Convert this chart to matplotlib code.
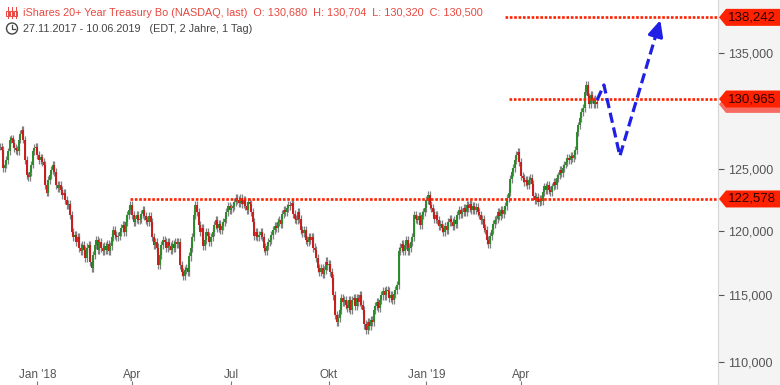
import numpy as np
import matplotlib
matplotlib.use('Agg')
import matplotlib.pyplot as plt
from matplotlib.patches import Polygon, Circle, Rectangle
from matplotlib.lines import Line2D
from matplotlib.transforms import blended_transform_factory
from matplotlib.ticker import FixedLocator, NullLocator, FuncFormatter

plt.rcParams['font.family'] = ['Liberation Sans', 'DejaVu Sans']

# daily closes, 27.11.2017 - 10.06.2019
closes = [
    126.9, 126.6, 125.1, 125.4, 125.8, 126.5, 127.5, 127.6, 127.2, 126.8,
    126.6, 126.5, 127.5, 128.0, 128.3, 127.5, 125.8, 124.5, 124.4, 124.8,
    125.4, 126.5, 126.8, 126.9, 126.2, 125.8, 126.0, 125.6, 125.4, 123.7,
    123.1, 124.1, 124.5, 124.95, 125.4, 124.8, 123.7, 123.5, 123.7, 123.3,
    122.9, 123.1, 122.5, 122.1, 122.2, 121.3, 119.9, 119.5, 119.7, 119.1,
    119.5, 118.7, 118.4, 118.9, 118.5, 117.9, 118.7, 118.9, 117.6, 117.1,
    118.1, 118.9, 119.3, 118.5, 119.1, 118.7, 118.4, 118.8, 118.5, 119.0,
    118.4, 118.8, 119.5, 120.1, 119.7, 119.5, 119.6, 119.9, 120.25, 120.5,
    119.9, 120.7, 121.3, 121.7, 122.1, 121.3, 120.7, 121.0, 121.3, 120.9,
    121.0, 121.4, 121.7, 121.2, 120.9, 120.7, 121.2, 120.7, 119.5, 118.9,
    119.1, 118.7, 117.35, 118.1, 118.9, 119.3, 119.1, 118.7, 119.1, 118.8,
    118.5, 119.0, 118.7, 119.1, 119.0, 119.1, 117.35, 116.8, 116.5, 116.96,
    117.1, 116.8, 118.0, 118.7, 119.5, 121.3, 122.1, 121.5, 120.5, 119.9,
    120.25, 118.8, 119.3, 119.9, 119.6, 119.1, 119.5, 119.9, 120.5, 120.9,
    120.25, 120.6, 120.1, 120.4, 120.7, 121.0, 121.5, 122.0, 121.7, 121.85,
    122.0, 122.3, 122.65, 122.5, 122.25, 122.65, 122.2, 122.5, 122.0, 121.7,
    122.3, 122.2, 121.5, 120.7, 119.6, 119.9, 119.5, 119.7, 119.9, 119.5,
    118.7, 118.4, 118.8, 119.1, 119.3, 119.7, 120.1, 120.4, 120.25, 120.7,
    120.9, 120.6, 121.4, 121.7, 121.5, 121.85, 122.1, 122.0, 122.25, 121.4,
    121.0, 120.9, 121.5, 121.0, 120.1, 119.85, 120.1, 119.3, 119.1, 119.5,
    119.3, 119.5, 118.7, 118.5, 117.9, 117.1, 116.8, 117.1, 116.65, 116.96,
    117.6, 117.3, 117.4, 116.8, 116.3, 115.0, 113.5, 113.0, 113.3, 113.9,
    114.8, 114.5, 114.65, 114.3, 114.05, 114.65, 113.9, 114.65, 114.8, 114.2,
    114.8, 114.5, 115.0, 114.3, 113.9, 112.8, 112.4, 113.0, 112.7, 113.1,
    113.0, 113.9, 114.2, 114.5, 114.05, 114.65, 115.0, 115.3, 115.0, 115.4,
    115.3, 114.8, 115.0, 114.65, 115.1, 115.4, 115.8, 118.4, 118.7, 119.0,
    118.4, 118.9, 119.3, 118.4, 118.7, 119.1, 119.5, 121.3, 121.0, 120.9,
    121.2, 120.5, 121.3, 121.5, 121.85, 122.5, 122.9, 122.1, 121.85, 121.5,
    121.0, 121.3, 120.9, 120.4, 120.6, 120.25, 119.9, 120.4, 120.1, 120.7,
    121.0, 120.7, 120.4, 120.9, 120.6, 121.3, 121.7, 121.4, 121.5, 121.85,
    121.5, 122.1, 121.85, 122.2, 121.7, 122.0, 121.7, 121.9, 121.5, 121.3,
    120.9, 121.0, 120.25, 120.1, 119.3, 119.0, 119.6, 120.1, 120.6, 120.9,
    121.0, 121.5, 121.2, 121.7, 121.4, 121.7, 122.0, 122.65, 123.1, 124.2,
    124.8, 125.1, 125.8, 126.2, 126.45, 125.6, 124.45, 124.3, 123.95, 124.1,
    123.7, 124.1, 124.3, 123.8, 122.8, 122.5, 122.75, 122.3, 122.6, 122.4,
    123.15, 123.6, 123.3, 123.7, 123.3, 123.15, 123.6, 124.0, 123.7, 124.3,
    124.5, 124.95, 124.7, 125.1, 125.4, 125.6, 125.95, 125.8, 126.1, 125.95,
    126.2, 126.6, 128.1, 128.7, 129.3, 129.85, 130.2, 131.6, 132.2, 131.2,
    130.5, 131.3, 130.9, 130.5, 131.0, 130.5,
]
last_open = 130.680

tick_idx = [24, 85, 149, 212, 275, 336]
tick_lbl = ["Jan '18", "Apr", "Jul", "Okt", "Jan '19", "Apr"]
y_ticks = [110, 115, 120, 125, 135]

levels = [138.242, 130.965, 122.578]
level_start = [326, 328.5, 84]
last_close = 130.500

proj_x = [385.1, 389.5, 399.8, 424.0]
proj_y = [130.88, 132.19, 126.12, 137.09]
arrow_tip = (425.9, 137.99)

title = "iShares 20+ Year Treasury Bo (NASDAQ, last)  O: 130,680  H: 130,704  L: 130,320  C: 130,500"
subtitle = "27.11.2017 - 10.06.2019   (EDT, 2 Jahre, 1 Tag)"

GREEN = '#2a8a2a'
RED = '#cc1a1a'
WICK = '#808080'
LEVEL = '#ff2200'
BLUE = '#1f1fe6'
wick = 0.32

fig = plt.figure(figsize=(7.8, 3.85), dpi=100)
ax = fig.add_axes([0, 0, 718 / 780, 1])
fig.add_artist(Rectangle((718 / 780, 0), 62 / 780, 1, transform=fig.transFigure,
                         facecolor='#f4f4f4', edgecolor='none', zorder=0))

c = np.array(closes)
o = np.r_[c[0], c[:-1]]
o[-1] = last_open
x = np.arange(len(c))
hi = np.maximum(o, c) + wick
lo = np.minimum(o, c) - wick
cols = np.where(c >= o, GREEN, RED)

ax.vlines(x, lo, hi, color=WICK, lw=0.9, zorder=2)
ax.vlines(x, o, c, color=cols, lw=1.4, zorder=3)

ax.set_yscale('log')
ax.set_ylim(108.37, 139.84)
ax.set_xlim(-0.13, 463.1)

for lev, xs in zip(levels, level_start):
    ax.hlines(lev, xs, 463.1, color=LEVEL, lw=1.9, linestyles=[(0, (1, 0.65))], zorder=4)

ax.plot(proj_x, proj_y, color=BLUE, lw=2.3, linestyle=(0, (3.2, 1.5)),
        dash_capstyle='butt', zorder=6, clip_on=False)
ax.annotate('', xy=arrow_tip, xytext=(proj_x[-1], proj_y[-1]),
            arrowprops=dict(arrowstyle='-|>,head_length=0.95,head_width=0.45',
                            color=BLUE, lw=2.3, shrinkA=0, shrinkB=0), zorder=6)

for s in ['top', 'left', 'bottom']:
    ax.spines[s].set_visible(False)
ax.spines['right'].set_color('#d6d6d6')
ax.spines['right'].set_linewidth(0.8)

ax.yaxis.tick_right()
ax.yaxis.set_major_locator(FixedLocator(y_ticks))
ax.yaxis.set_minor_locator(NullLocator())
ax.yaxis.set_major_formatter(FuncFormatter(lambda v, p: f"{v:.3f}".replace('.', ',')))
ax.tick_params(axis='y', direction='out', length=4, width=0.8, colors='#555555',
               labelsize=9, pad=3)

ax.set_xticks(tick_idx)
ax.xaxis.set_minor_locator(NullLocator())
ax.tick_params(axis='x', direction='in', length=3, width=0.8, color='#777777',
               labelbottom=False)
tr = blended_transform_factory(ax.transData, ax.transAxes)
for xi, lb in zip(tick_idx, tick_lbl):
    ax.text(xi, 0.026, lb, transform=tr, ha='center', va='center',
            fontsize=8.5, color='#555555')

# price tags on the right axis
fig.canvas.draw()
px = fig.dpi_scale_trans


def tag(price, face, label):
    yp = ax.transData.transform((0, price))[1]
    pts = [(719, yp), (726, yp + 8.5), (780, yp + 8.5), (780, yp - 8.5), (726, yp - 8.5)]
    fig.add_artist(Polygon([(a / 100, b / 100) for a, b in pts], closed=True,
                           transform=px, facecolor=face, edgecolor='none', zorder=8))
    if label:
        fig.text(7.52, yp / 100, label, transform=px, ha='center', va='center',
                 fontsize=9.5, color='#2a0000', zorder=9)


tag(last_close, '#f76b63', None)
for lev in levels:
    tag(lev, LEVEL, f"{lev:.3f}".replace('.', ','))

# header
fig.text(0.23, 3.85 - 0.125, title, transform=px, fontsize=7.85, color='#e8473f',
         ha='left', va='center')
fig.text(0.23, 3.85 - 0.285, subtitle, transform=px, fontsize=7.85, color='#444444',
         ha='left', va='center')
for cx in [0.075, 0.115, 0.155]:
    fig.add_artist(Line2D([cx, cx], [3.85 - 0.07, 3.85 - 0.18], transform=px,
                          color='#e8473f', lw=0.7))
    fig.add_artist(Rectangle((cx - 0.013, 3.85 - 0.155), 0.026, 0.05, transform=px,
                             facecolor='white', edgecolor='#e8473f', lw=0.7))
fig.add_artist(Circle((0.12, 3.85 - 0.285), 0.055, transform=px, facecolor='none',
                      edgecolor='#444444', lw=1.0))
fig.add_artist(Line2D([0.12, 0.12, 0.15], [3.85 - 0.25, 3.85 - 0.29, 3.85 - 0.29],
                      transform=px, color='#444444', lw=0.9))

fig.savefig('out.png', dpi=100)
plt.close(fig)
